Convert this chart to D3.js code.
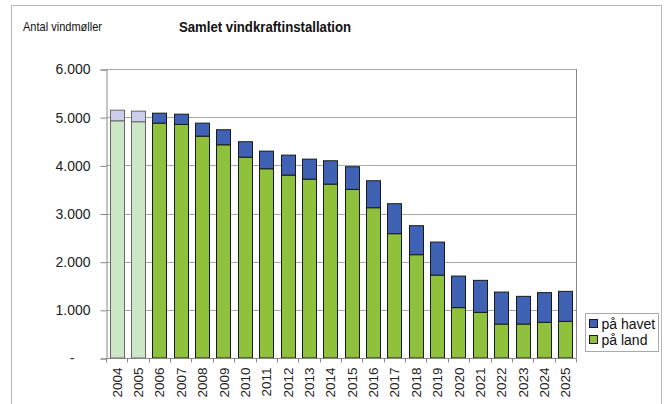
<!DOCTYPE html>
<html>
<head>
<meta charset="utf-8">
<script src="https://cdn.jsdelivr.net/npm/d3@7"></script>
<style>
  body { margin: 0; background: #fff; }
  svg { font-family: Arial, "Liberation Sans", sans-serif; }
</style>
</head>
<body>
<div id="chart"></div>
<script>
const years = ['2004','2005','2006','2007','2008','2009','2010','2011','2012','2013','2014','2015',
               '2016','2017','2018','2019','2020','2021','2022','2023','2024','2025'];
const paaLand = [4925, 4905, 4876, 4849, 4606, 4427, 4170, 3929, 3797, 3714, 3610, 3500,
                 3120, 2581, 2145, 1722, 1046, 948, 705, 705, 741, 761];
const paaHavet = [220, 220, 207, 213, 270, 312, 320, 366, 415, 415, 485, 471,
                  560, 622, 602, 685, 655, 664, 664, 575, 616, 623];
const yTicks = [0, 1000, 2000, 3000, 4000, 5000, 6000];
const historicYears = ['2004', '2005'];

const Colors = { land: '#8fc13c', havet: '#3f62b4', landOld: '#cde7c6', havetOld: '#cdcdec' };

function DrawChart()
{
    const Width = 665, Height = 404;
    const Plot = { left: 106, right: 576, top: 69, bottom: 358 };
    const Svg = d3.select('#chart').append('svg').attr('width', Width).attr('height', Height);

    // outer chart frame
    Svg.append('rect').attr('x', 11.5).attr('y', 5.5).attr('width', 650).attr('height', 410)
       .attr('fill', 'none').attr('stroke', '#b8b8b8').attr('stroke-width', 1);

    const xScale = d3.scaleBand().domain(years).range([Plot.left, Plot.right]).paddingInner(0.34).paddingOuter(0.17);
    const yScale = d3.scaleLinear().domain([0, 6000]).range([Plot.bottom, Plot.top]);

    // gridlines
    Svg.append('g').selectAll('line').data(yTicks.slice(1)).enter().append('line')
       .attr('x1', Plot.left).attr('x2', Plot.right)
       .attr('y1', d => Math.round(yScale(d)) + 0.5).attr('y2', d => Math.round(yScale(d)) + 0.5)
       .attr('stroke', '#a8a8a8');
    // plot border right
    Svg.append('line').attr('x1', Plot.right + 0.5).attr('x2', Plot.right + 0.5)
       .attr('y1', Plot.top).attr('y2', Plot.bottom).attr('stroke', '#888');

    // y axis
    const yAxis = Svg.append('g').attr('transform', `translate(${Plot.left + 0.5},0.5)`)
       .call(d3.axisLeft(yScale).tickValues(yTicks).tickSize(6).tickPadding(10)
             .tickFormat(d => d === 0 ? '-' : d3.format(',')(d).replace(/,/g, '.')));
    yAxis.select('.domain').attr('stroke', '#888');
    yAxis.selectAll('.tick line').attr('stroke', '#888');
    yAxis.selectAll('.tick text').attr('font-size', '14px').attr('fill', '#222')
         .attr('x', d => d === 0 ? -32 : -16);

    // bars
    const StackData = years.map((y, i) => ({ year: y, land: paaLand[i], havet: paaHavet[i] }));
    const Groups = Svg.append('g').selectAll('g').data(StackData).enter().append('g');
    Groups.append('rect')
       .attr('x', d => Math.round(xScale(d.year)) + 0.5)
       .attr('y', d => yScale(d.land))
       .attr('width', Math.round(xScale.bandwidth()))
       .attr('height', d => yScale(0) - yScale(d.land))
       .attr('fill', d => historicYears.includes(d.year) ? Colors.landOld : Colors.land)
       .attr('stroke', d => historicYears.includes(d.year) ? '#666' : '#1a1a1a');
    Groups.append('rect')
       .attr('x', d => Math.round(xScale(d.year)) + 0.5)
       .attr('y', d => yScale(d.land + d.havet))
       .attr('width', Math.round(xScale.bandwidth()))
       .attr('height', d => yScale(d.land) - yScale(d.land + d.havet))
       .attr('fill', d => historicYears.includes(d.year) ? Colors.havetOld : Colors.havet)
       .attr('stroke', d => historicYears.includes(d.year) ? '#666' : '#1a1a1a');

    // x axis
    const xAxis = Svg.append('g').attr('transform', `translate(0,${Plot.bottom + 0.5})`);
    xAxis.append('line').attr('x1', Plot.left).attr('x2', Plot.right).attr('stroke', '#888');
    const step = xScale.step();
    xAxis.selectAll('line.tick').data(d3.range(years.length + 1)).enter().append('line')
       .attr('class', 'tick')
       .attr('x1', i => Math.round(Plot.left + i * step) + 0.5).attr('x2', i => Math.round(Plot.left + i * step) + 0.5)
       .attr('y1', 0).attr('y2', 4).attr('stroke', '#888');
    xAxis.selectAll('text').data(years).enter().append('text')
       .attr('transform', d => `translate(${xScale(d) + xScale.bandwidth() / 2 + 5},9) rotate(-90)`)
       .attr('text-anchor', 'end').attr('font-size', '13.5px').attr('fill', '#222')
       .text(d => d);

    // titles
    Svg.append('text').attr('transform', 'translate(23,31) scale(0.92,1)').attr('font-size', '12px').attr('fill', '#111')
       .text('Antal vindmøller');
    Svg.append('text').attr('transform', 'translate(265,32) scale(0.88,1)').attr('text-anchor', 'middle')
       .attr('font-size', '15px').attr('font-weight', 'bold').attr('fill', '#111')
       .text('Samlet vindkraftinstallation');

    // legend
    const Legend = Svg.append('g').attr('transform', 'translate(585.5,313.5)');
    Legend.append('rect').attr('width', 73).attr('height', 38).attr('fill', '#fff').attr('stroke', '#aaa');
    const Items = [{ name: 'på havet', color: Colors.havet }, { name: 'på land', color: Colors.land }];
    Items.forEach((item, i) =>
    {
        Legend.append('rect').attr('x', 4).attr('y', 6 + i * 16).attr('width', 8).attr('height', 8)
              .attr('fill', item.color).attr('stroke', '#1a1a1a');
        Legend.append('text').attr('x', 16).attr('y', 15 + i * 16).attr('font-size', '14px').attr('fill', '#111')
              .text(item.name);
    });
}

DrawChart();
</script>
</body>
</html>
